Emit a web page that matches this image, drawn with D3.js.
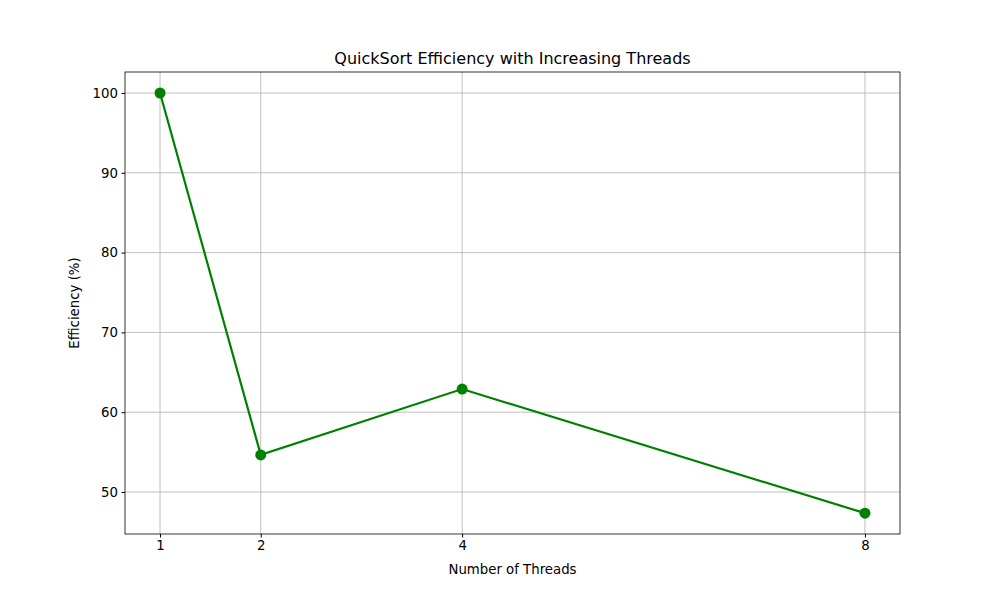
<!DOCTYPE html>
<html><head><meta charset="utf-8">
<script src="https://cdn.jsdelivr.net/npm/d3@7"></script>
<style>body{margin:0;background:#fff}text{font-family:"DejaVu Sans",sans-serif;}</style>
</head><body><svg id="c" width="1000" height="600"></svg>
<script>
const threads=[1,2,4,8];
const efficiency=[100,54.65,62.9,47.35];
const xTicks=[1,2,4,8];
const yTicks=[50,60,70,80,90,100];
const L=125,R=900,T=72,B=534;
const svg=d3.select("#c");
const x=d3.scaleLinear().domain([0.652,8.348]).range([L,R]);
const y=d3.scaleLinear().domain([44.74,102.63]).range([B,T]);
const g=svg.append("g");
g.selectAll(".vx").data(xTicks).join("line").attr("x1",d=>x(d)).attr("x2",d=>x(d)).attr("y1",T).attr("y2",B).attr("stroke","#b0b0b0").attr("stroke-width",0.8);
g.selectAll(".hy").data(yTicks).join("line").attr("y1",d=>y(d)).attr("y2",d=>y(d)).attr("x1",L).attr("x2",R).attr("stroke","#b0b0b0").attr("stroke-width",0.8);
const xa=svg.append("g").attr("transform",`translate(0,${B})`).call(d3.axisBottom(x).tickValues(xTicks).tickSize(3.5).tickPadding(3.5));
const ya=svg.append("g").attr("transform",`translate(${L},0)`).call(d3.axisLeft(y).tickValues(yTicks).tickSize(3.5).tickPadding(3.5));
[xa,ya].forEach(a=>{a.select(".domain").remove();a.selectAll("text").attr("font-size",10*1.333/1.333).style("font-size","13.3px").attr("fill","#000");a.selectAll("line").attr("stroke","#000");});
svg.append("rect").attr("x",L).attr("y",T).attr("width",R-L).attr("height",B-T).attr("fill","none").attr("stroke","#000").attr("stroke-width",0.8);
const pts=threads.map((t,i)=>[t,efficiency[i]]);
svg.append("path").datum(pts).attr("d",d3.line().x(d=>x(d[0])).y(d=>y(d[1]))).attr("fill","none").attr("stroke","green").attr("stroke-width",2.2);
svg.selectAll(".pt").data(pts).join("circle").attr("cx",d=>x(d[0])).attr("cy",d=>y(d[1])).attr("r",5.5).attr("fill","green");
svg.append("text").attr("x",(L+R)/2).attr("y",64).attr("text-anchor","middle").style("font-size","16px").text("QuickSort Efficiency with Increasing Threads");
svg.append("text").attr("x",(L+R)/2).attr("y",574).attr("text-anchor","middle").style("font-size","13.3px").text("Number of Threads");
svg.append("text").attr("transform",`translate(79,${(T+B)/2}) rotate(-90)`).attr("text-anchor","middle").style("font-size","13.3px").text("Efficiency (%)");
</script></body></html>
